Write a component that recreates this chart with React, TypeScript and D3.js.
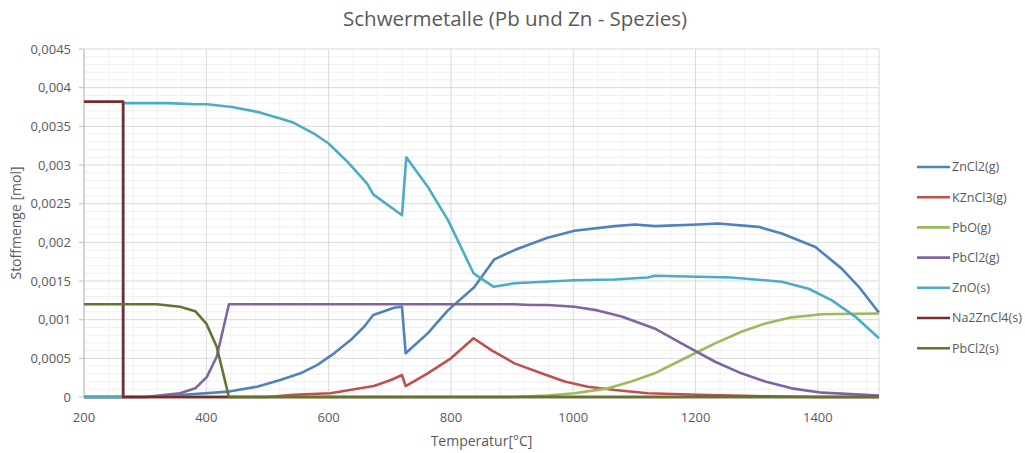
import React from "react";
import * as d3 from "d3";

type Pt = [number, number];

const title = "Schwermetalle (Pb und Zn - Spezies)";
const xTitle = "Temperatur[°C]";
const yTitle = "Stoffmenge [mol]";
const xTicks = [200, 400, 600, 800, 1000, 1200, 1400];
const yTicks = [0, 0.0005, 0.001, 0.0015, 0.002, 0.0025, 0.003, 0.0035, 0.004, 0.0045];

const seriesNames = ["ZnCl2(g)", "KZnCl3(g)", "PbO(g)", "PbCl2(g)", "ZnO(s)", "Na2ZnCl4(s)", "PbCl2(s)"];
const seriesColors = ["#4F81BD", "#C0504D", "#9BBB59", "#8064A2", "#4BACC6", "#772C2A", "#5F7530"];

const znCl2g: Pt[] = [
  [200, 0], [300, 0], [357, 0.000026], [437, 0.00007], [483, 0.000133], [521, 0.00022], [554, 0.000306],
  [581, 0.000413], [609, 0.000565], [636, 0.000736], [658, 0.000908], [673, 0.00106], [707, 0.001154],
  [720, 0.001167], [726, 0.000565], [762, 0.000823], [795, 0.00112], [838, 0.00142], [871, 0.00178],
  [904, 0.0019], [958, 0.00206], [1002, 0.00215], [1068, 0.00221], [1101, 0.00223], [1133, 0.00221],
  [1204, 0.00223], [1237, 0.002244], [1303, 0.0022], [1341, 0.002115], [1396, 0.00194], [1439, 0.00166],
  [1467, 0.001425], [1500, 0.00109],
];
const kZnCl3g: Pt[] = [
  [200, 0], [500, 0], [543, 0.00003], [603, 0.000048], [674, 0.000142], [702, 0.00022], [720, 0.000284],
  [726, 0.000142], [762, 0.000306], [800, 0.0005], [837, 0.00076], [866, 0.000607], [904, 0.000435],
  [948, 0.000306], [986, 0.0002], [1024, 0.000133], [1068, 0.00009], [1122, 0.000048], [1204, 0.00003],
  [1313, 0.00001], [1400, 0], [1500, 0],
];
const pbOg: Pt[] = [
  [200, 0], [900, 0], [958, 0.00002], [1002, 0.000048], [1057, 0.000112], [1095, 0.0002], [1133, 0.000306],
  [1177, 0.000478], [1204, 0.000585], [1232, 0.000694], [1275, 0.000844], [1314, 0.00095], [1357, 0.00103],
  [1407, 0.00107], [1500, 0.00108],
];
const pbCl2g: Pt[] = [
  [200, 0], [300, 0], [357, 0.000048], [382, 0.000112], [401, 0.00026], [417, 0.00052], [437, 0.0012],
  [904, 0.0012], [931, 0.00119], [958, 0.00119], [1002, 0.001167], [1040, 0.00112], [1079, 0.00104],
  [1133, 0.000887], [1177, 0.000694], [1232, 0.000456], [1275, 0.000306], [1314, 0.0002], [1357, 0.000112],
  [1407, 0.000056], [1500, 0.00002],
];
const znOs: Pt[] = [
  [200, 0], [264, 0], [264, 0.003802], [338, 0.0038], [382, 0.003785], [401, 0.003785], [442, 0.00375],
  [483, 0.003687], [521, 0.0036], [543, 0.003545], [576, 0.003407], [600, 0.003278], [631, 0.00304],
  [663, 0.00276], [673, 0.00262], [720, 0.00235], [727, 0.0031], [762, 0.00272], [795, 0.00229],
  [837, 0.0016], [846, 0.00155], [870, 0.001425], [904, 0.00147], [1002, 0.00151], [1068, 0.00152],
  [1122, 0.001546], [1133, 0.001567], [1204, 0.001555], [1259, 0.001546], [1341, 0.00149], [1385, 0.0014],
  [1423, 0.00125], [1461, 0.00104], [1500, 0.00076],
];
const na2ZnCl4s: Pt[] = [[200, 0.00382], [264, 0.00382], [264, 0], [1500, 0]];
const pbCl2s: Pt[] = [
  [200, 0.0012], [319, 0.0012], [357, 0.001167], [382, 0.00111], [400, 0.00095], [417, 0.00065],
  [437, 0], [1500, 0],
];

const seriesData = [znCl2g, kZnCl3g, pbOg, pbCl2g, znOs, na2ZnCl4s, pbCl2s];

const W = 1025;
const H = 453;
const L = 84, R = 879, T = 49, B = 397;
const FONT = "'Open Sans', 'DejaVu Sans', sans-serif";
const TXT = "#595959";

export default function App() {
  const x = d3.scaleLinear().domain([200, 1500]).range([L, R]);
  const y = d3.scaleLinear().domain([0, 0.0045]).range([B, T]);
  const line = d3.line<Pt>().x((d) => x(d[0])).y((d) => y(d[1]));
  const fmt = (v: number) => (v === 0 ? "0" : String(+v.toFixed(4)).replace(".", ","));

  const minorX = d3.range(200, 1500.001, 40).filter((v) => (v - 200) % 200 !== 0);
  const minorY = d3.range(0, 0.0045 + 1e-9, 0.0001).filter((v) => Math.abs(v / 0.0005 - Math.round(v / 0.0005)) > 1e-6);
  const majorX = d3.range(200, 1500.001, 200).concat([1500]);

  return (
    <svg width={W} height={H} style={{ position: "absolute", left: 0, top: 0, background: "#fff" }} fontFamily={FONT}>
      <rect x={0} y={0} width={W} height={H} fill="#fff" />
      <g>
        {minorX.map((v) => (
          <line key={"mx" + v} x1={x(v)} x2={x(v)} y1={T} y2={B} stroke="#F0F0F0" strokeWidth={1} />
        ))}
        {minorY.map((v, i) => (
          <line key={"my" + i} x1={L} x2={R} y1={y(v)} y2={y(v)} stroke="#F0F0F0" strokeWidth={1} />
        ))}
        {majorX.map((v) => (
          <line key={"Mx" + v} x1={x(v)} x2={x(v)} y1={T} y2={B} stroke="#D9D9D9" strokeWidth={1} />
        ))}
        {yTicks.map((v) => (
          <line key={"My" + v} x1={L} x2={R} y1={y(v)} y2={y(v)} stroke="#D9D9D9" strokeWidth={1} />
        ))}
      </g>
      <line x1={L} x2={L} y1={T} y2={B} stroke="#BFBFBF" />
      {yTicks.map((v) => (
        <line key={"t" + v} x1={L - 5} x2={L} y1={y(v)} y2={y(v)} stroke="#BFBFBF" />
      ))}
      <line x1={L} x2={R} y1={B} y2={B} stroke="#BFBFBF" />
      {seriesData.map((d, i) => (
        <path key={seriesNames[i]} d={line(d) || ""} fill="none" stroke={seriesColors[i]} strokeWidth={2.6} strokeLinejoin="round" />
      ))}
      {yTicks.map((v) => (
        <text key={"yl" + v} x={L - 13} y={y(v)} dy="0.35em" textAnchor="end" fontSize={13} fill={TXT}>
          {fmt(v)}
        </text>
      ))}
      {xTicks.map((v) => (
        <text key={"xl" + v} x={x(v)} y={B + 20} dy="0.35em" textAnchor="middle" fontSize={13} fill={TXT}>
          {v}
        </text>
      ))}
      <text x={(L + R) / 2} y={441} dy="0.35em" textAnchor="middle" fontSize={14} fill={TXT}>
        {xTitle}
      </text>
      <text transform={`translate(16,${(T + B) / 2}) rotate(-90)`} dy="0.35em" textAnchor="middle" fontSize={14} fill={TXT}>
        {yTitle}
      </text>
      <text x={515} y={19} dy="0.35em" textAnchor="middle" fontSize={20.5} fill={TXT}>
        {title}
      </text>
      {seriesNames.map((n, i) => {
        const ly = 167 + i * 30.2;
        return (
          <g key={"lg" + n}>
            <line x1={917} x2={950} y1={ly} y2={ly} stroke={seriesColors[i]} strokeWidth={2.6} />
            <text x={952} y={ly} dy="0.35em" fontSize={12.5} fill={TXT}>
              {n}
            </text>
          </g>
        );
      })}
    </svg>
  );
}
